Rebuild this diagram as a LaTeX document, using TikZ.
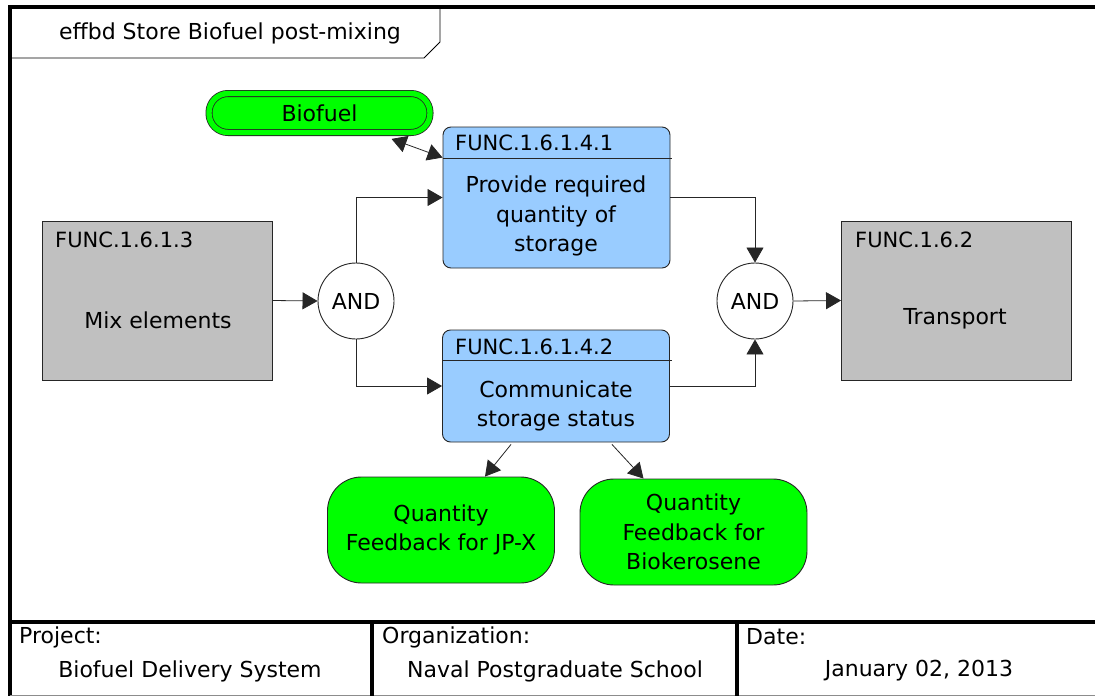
\documentclass[tikz,border=0pt]{standalone}
\usepackage{fontspec}
\setmainfont{DejaVu Sans}
\usetikzlibrary{positioning,arrows.meta,calc}
\definecolor{funcblue}{HTML}{99CCFF}
\definecolor{itemgreen}{HTML}{00FF00}
\definecolor{extgray}{HTML}{C0C0C0}
\definecolor{wiregray}{HTML}{262626}

\begin{document}
\begin{tikzpicture}[x=1pt,y=-1pt,
  font=\fontsize{22}{29.5}\selectfont,
  frame/.style={line width=4pt,draw=black},
  cell/.style={line width=3.5pt,draw=black},
  func/.style={draw=wiregray,fill=funcblue,line width=0.9pt,rounded corners=8pt,minimum width=227pt,minimum height=#1,inner sep=0pt},
  ext/.style={draw=wiregray,fill=extgray,line width=0.9pt,minimum width=230pt,minimum height=159pt,inner sep=0pt},
  gate/.style={circle,draw=wiregray,fill=white,line width=0.9pt,minimum size=76pt,inner sep=0pt},
  item/.style={draw=wiregray,fill=itemgreen,line width=0.9pt,rounded corners=34pt,minimum width=227pt,minimum height=106pt,align=center,inner sep=0pt},
  store/.style={draw=black!85,fill=itemgreen,double=itemgreen,double distance=5.4pt,line width=0.8pt,rounded corners=19pt,minimum width=221pt,minimum height=39pt,inner sep=0pt},
  txt/.style={align=center,inner sep=0pt},
  hdr/.style={anchor=west,inner sep=0pt,font=\fontsize{21}{25}\selectfont},
  wire/.style={draw=wiregray,line width=0.8pt},
  >={Triangle[length=15pt,width=17pt]}]
\useasboundingbox (0,0) rectangle (1095,696);
% ---- frame, title tab and footer
\draw[frame] (9.5,696) -- (9.5,6.5) -- (1095,6.5);
\draw[draw=black,line width=0.9pt] (9.5,8) -- (440,8) -- (440,42) -- (424,58) -- (9.5,58);
\node[txt] (title) at (230,33) {effbd Store Biofuel post-mixing};
\draw[frame] (9.5,622) -- (1095,622);
\draw[draw=black!45,line width=1pt] (9.5,695.5) -- (1095,695.5);
\draw[cell] (372,622) -- (372,696);
\draw[cell] (737,622) -- (737,696);
\node[hdr,font=\fontsize{22}{25}\selectfont] (prjlab) at (19,637) {Project:};
\node[txt] (prj) at (190,671) {Biofuel Delivery System};
\node[hdr,font=\fontsize{22}{25}\selectfont] (orglab) at (382,637) {Organization:};
\node[txt] (org) at (555,671) {Naval Postgraduate School};
\node[hdr,font=\fontsize{22}{25}\selectfont] (datelab) at (746,637) {Date:};
\node[txt] (date) at (919,671) {January 02, 2013};
% ---- functions
\node[ext] (mix) at (157,300.5) {};
\node[hdr] (mixid) at (55,240) {FUNC.1.6.1.3};
\node[txt] (mixtx) at (158,320) {Mix elements};
\node[ext] (ship) at (956.5,300.5) {};
\node[hdr] (shipid) at (855,240) {FUNC.1.6.2};
\node[txt] (shiptx) at (955,319) {Transport};
\node[func=141pt] (p1) at (556.5,197.5) {};
\draw[wire] ($(p1.north west)+(0,32)$) -- ($(p1.north east)+(2,32)$);
\node[hdr] (p1id) at (455,143) {FUNC.1.6.1.4.1};
\node[txt] (p1tx) at (556,216) {Provide required\\ quantity of\\ storage};
\node[func=112pt] (p2) at (556,386) {};
\draw[wire] ($(p2.north west)+(0,31)$) -- ($(p2.north east)+(2,31)$);
\node[hdr] (p2id) at (455,347) {FUNC.1.6.1.4.2};
\node[txt] (p2tx) at (556,406) {Communicate\\ storage status};
\node[gate] (andl) at (356,301) {AND};
\node[gate] (andr) at (755,301) {AND};
% ---- items
\node[store] (fuel) at (319.5,113) {Biofuel};
\node[item] (fbjp) at (441,530) {Quantity\\ Feedback for JP-X};
\node[item] (fbbk) at (693.5,532) {Quantity\\ Feedback for\\ Biokerosene};
% ---- flow
\draw[wire,->] (mix.east) -- (andl.west);
\draw[wire,->] (andl.north) |- (p1.west);
\draw[wire,->] (andl.south) |- (p2.west);
\draw[wire,->] (p1.east) -| (andr.north);
\draw[wire,->] (p2.east) -| (andr.south);
\draw[wire,->] (andr.east) -- (ship.west);
\draw[wire,<->] ($(fuel.south)+(72,6)$) -- ($(p1.north west)+(0,31)$);
\draw[wire,->] ($(p2.south)+(-45,2)$) -- ($(fbjp.north)+(44,0)$);
\draw[wire,->] ($(p2.south)+(56,2)$) -- ($(fbbk.north)+(-50,0)$);
\end{tikzpicture}
\end{document}
